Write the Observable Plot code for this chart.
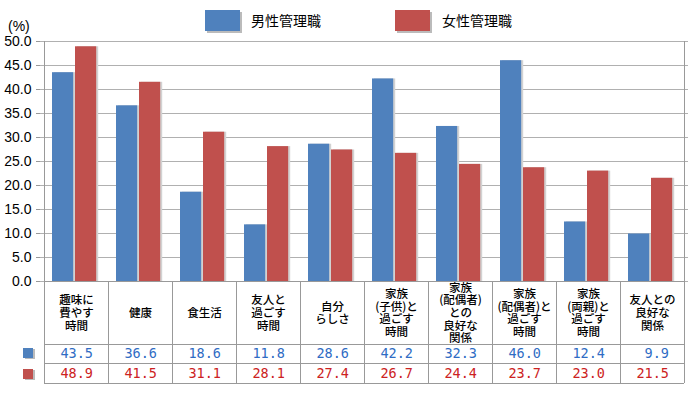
<!DOCTYPE html>
<html><head><meta charset="utf-8">
<script src="https://cdn.jsdelivr.net/npm/d3@7"></script>
<script src="https://cdn.jsdelivr.net/npm/@observablehq/plot@0.6"></script>
<style>
body{margin:0;background:#fff}
#chart{width:700px;height:400px}
</style>
</head><body><div id="chart"></div>
<script>
const categories = [
  "趣味に\n費やす\n時間",
  "健康",
  "食生活",
  "友人と\n過ごす\n時間",
  "自分\nらしさ",
  "家族\n(子供)と\n過ごす\n時間",
  "家族\n(配偶者)\nとの\n良好な\n関係",
  "家族\n(配偶者)と\n過ごす\n時間",
  "家族\n(両親)と\n過ごす\n時間",
  "友人との\n良好な\n関係"
];
const seriesNames = ["男性管理職", "女性管理職"];
const maleValues = [43.5, 36.6, 18.6, 11.8, 28.6, 42.2, 32.3, 46.0, 12.4, 9.9];
const femaleValues = [48.9, 41.5, 31.1, 28.1, 27.4, 26.7, 24.4, 23.7, 23.0, 21.5];
const yTicks = [0, 5, 10, 15, 20, 25, 30, 35, 40, 45, 50];
const yUnit = "(%)";

const barColors = ["#4f81bd", "#c0504d"];
const textColors = ["#2f6cc4", "#cc2222"];

const W = 700, H = 400, mL = 40, mR = 12, mT = 41, mB = 119;
const bw = (W - mL - mR) / categories.length;

const male = categories.map((c, i) => ({cat: c, series: seriesNames[0], value: maleValues[i]}));
const female = categories.map((c, i) => ({cat: c, series: seriesNames[1], value: femaleValues[i]}));

const jp = "'Noto Sans CJK JP', sans-serif";
const mono = "'DejaVu Sans Mono', monospace";
const sans = "'Liberation Sans', Arial, sans-serif";

const chart = Plot.plot({
  width: W, height: H,
  marginLeft: mL, marginRight: mR, marginTop: mT, marginBottom: mB,
  style: {fontFamily: sans, fontSize: "14px", color: "#000", background: "#fff"},
  x: {domain: categories, padding: 0, axis: null},
  y: {domain: [0, 50], axis: null},
  marks: [
    Plot.ruleY(yTicks, {stroke: "#b0b0b0", strokeWidth: 1}),
    Plot.axisY({ticks: yTicks, tickFormat: d => d.toFixed(1), tickSize: 4, tickPadding: 5, stroke: "#999", fill: "#000", fontSize: 14, label: null}),
    // shadows
    Plot.barY(male, {x: "cat", y: "value", fill: "#d2d2d2", insetLeft: 8 + 2, insetRight: bw - 30 - 2}),
    Plot.barY(female, {x: "cat", y: "value", fill: "#d2d2d2", insetLeft: 31 + 2, insetRight: bw - 53 - 2}),
    Plot.barY(male, {x: "cat", y: "value", fill: barColors[0], insetLeft: 8, insetRight: bw - 30}),
    Plot.barY(female, {x: "cat", y: "value", fill: barColors[1], insetLeft: 31, insetRight: bw - 53}),
    Plot.text(categories, {x: d => d, text: d => d, frameAnchor: "bottom", dy: 31.5, lineAnchor: "middle",
      fontFamily: jp, fontSize: 11.5, lineHeight: 1.1, fill: "#000", fontWeight: 500}),
    Plot.text(male, {x: "cat", text: d => d.value.toFixed(1), frameAnchor: "bottom", dy: 72.5, dx: 16.5,
      textAnchor: "end", lineAnchor: "middle", fontFamily: mono, fontSize: 13.5, fill: textColors[0]}),
    Plot.text(female, {x: "cat", text: d => d.value.toFixed(1), frameAnchor: "bottom", dy: 92.5, dx: 16.5,
      textAnchor: "end", lineAnchor: "middle", fontFamily: mono, fontSize: 13.5, fill: textColors[1]})
  ]
});

document.getElementById("chart").appendChild(chart);

// table lines, frame and legends using the plot's scales
const sx = chart.scale("x"), sy = chart.scale("y");
const svg = d3.select(chart);
const y0 = sy.apply(0), yTop = sy.apply(50);
const left = sx.apply(categories[0]);
const right = sx.apply(categories[categories.length - 1]) + sx.bandwidth;
const rowLines = [y0, y0 + 63, y0 + 82, y0 + 102];
const g = svg.append("g").attr("stroke", "#999").attr("stroke-width", 1).attr("shape-rendering", "crispEdges");
rowLines.forEach(y => g.append("line").attr("x1", left).attr("x2", right).attr("y1", y).attr("y2", y));
categories.forEach(c => {
  const x = sx.apply(c);
  g.append("line").attr("x1", x).attr("x2", x).attr("y1", x === left ? yTop : y0).attr("y2", y0 + 102);
});
g.append("line").attr("x1", right).attr("x2", right).attr("y1", yTop).attr("y2", y0 + 102);

// row legend swatches
const sw = svg.append("g");
[[y0 + 67, barColors[0]], [y0 + 88, barColors[1]]].forEach(([y, c]) => {
  sw.append("rect").attr("x", 25).attr("y", y + 1).attr("width", 10).attr("height", 10).attr("fill", "#bbb");
  sw.append("rect").attr("x", 23).attr("y", y).attr("width", 10).attr("height", 10).attr("fill", c);
});

// unit label
svg.append("text").attr("x", 8).attr("y", 31).attr("font-size", 14).attr("fill", "#000")
  .attr("text-anchor", "start").attr("font-family", sans).text(yUnit);

// top legend
const lg = svg.append("g").attr("text-anchor", "start");
[[205, 251, 0], [395, 442, 1]].forEach(([sxp, tx, i]) => {
  lg.append("rect").attr("x", sxp + 2).attr("y", 12).attr("width", 35).attr("height", 21).attr("fill", "#bbb");
  lg.append("rect").attr("x", sxp).attr("y", 10).attr("width", 35).attr("height", 21).attr("fill", barColors[i]);
  lg.append("text").attr("x", tx).attr("y", 21).attr("dy", "0.35em").attr("font-size", 14)
    .attr("font-family", jp).attr("fill", "#000").text(seriesNames[i]);
});
</script>
</body></html>
